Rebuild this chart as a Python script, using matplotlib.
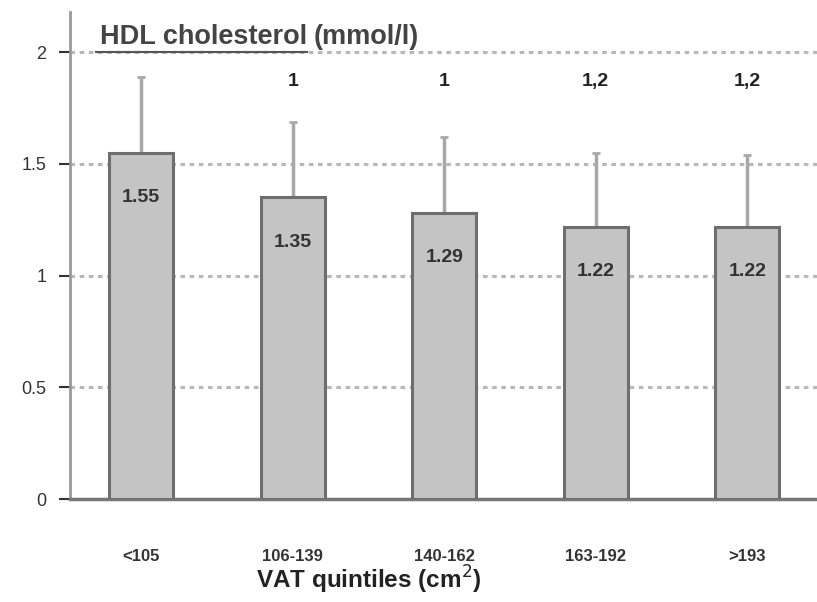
import matplotlib
matplotlib.use("Agg")
import matplotlib.pyplot as plt
import numpy as np

plt.rcParams["font.family"] = ["Liberation Sans", "DejaVu Sans"]

categories = ["<105", "106-139", "140-162", "163-192", ">193"]
means = [1.55, 1.35, 1.28, 1.22, 1.22]
value_labels = ["1.55", "1.35", "1.29", "1.22", "1.22"]
sds = [0.34, 0.34, 0.34, 0.33, 0.32]
sig_labels = ["", "1", "1", "1,2", "1,2"]

fig = plt.figure(figsize=(8.17, 6.02), dpi=100)
ax = fig.add_axes([0.0857, 0.171, 0.9143, 0.809])

x = np.arange(len(categories))
ax.set_axisbelow(True)
ax.yaxis.grid(True, linestyle=(0, (1.5, 1.5)), color="#b8b8b8", linewidth=2.2)
ax.bar(x, means, width=0.42, color="#c4c4c4", edgecolor="#6e6e6e", linewidth=2.2, zorder=3)
ax.errorbar(x, means, yerr=[np.zeros(len(sds)), sds], fmt="none", ecolor="#a8a8a8",
            elinewidth=2.5, capsize=3, capthick=2, zorder=2)

for xi, m, lab in zip(x, means, value_labels):
    ax.text(xi, m - 0.2, lab, ha="center", va="center", fontsize=14, fontweight="bold",
            color="#333333", zorder=4)
for xi, lab in zip(x, sig_labels):
    if lab:
        ax.text(xi, 1.87, lab, ha="center", va="center", fontsize=14, fontweight="bold", color="#222222")

ax.set_xlim(-0.47, 4.46)
ax.set_ylim(0, 2.18)
ax.set_yticks([0, 0.5, 1, 1.5, 2])
ax.set_yticklabels(["0", "0.5", "1", "1.5", "2"])
ax.set_xticks(x)
ax.set_xticklabels(categories, fontweight="bold")
ax.tick_params(axis="x", length=0, pad=36, labelsize=12, colors="#333333")
ax.tick_params(axis="y", length=8, width=1.5, direction="out", pad=9, labelsize=13, colors="#333333")
for s in ["top", "right"]:
    ax.spines[s].set_visible(False)
ax.spines["left"].set_color("#999999")
ax.spines["left"].set_linewidth(2)
ax.spines["bottom"].set_color("#777777")
ax.spines["bottom"].set_linewidth(2.5)

ax.set_xlabel("VAT quintiles (cm$^2$)", fontsize=17.5, fontweight="bold", color="#222222", va="center")
ax.xaxis.set_label_coords(0.40, -0.166)

t = fig.text(0.122, 0.917, "HDL cholesterol", fontsize=19.5, fontweight="bold", color="#444444", ha="left", va="bottom")
fig.canvas.draw()
bb = t.get_window_extent().transformed(fig.transFigure.inverted())
fig.text(bb.x1 + 0.008, 0.917, "(mmol/l)", fontsize=19.5, fontweight="bold", color="#444444", ha="left", va="bottom")
fig.add_artist(plt.Line2D([0.118, bb.x1], [0.914, 0.914], color="#555555", linewidth=1.5))

fig.savefig("out.png", dpi=100)
